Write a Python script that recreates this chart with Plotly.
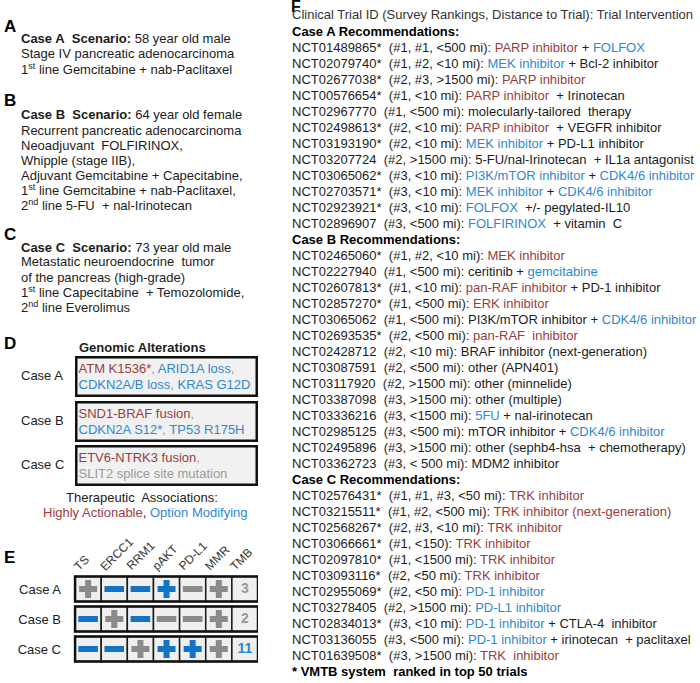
import plotly.graph_objects as go

W, H = 700, 683
FONT = "Liberation Sans, Arial, sans-serif"
RED = "#973d3d"
BLUE = "#2f88cf"
GRAYT = "#9b9b9b"
TXT = "#1c1c1c"
ICON_BLUE = "#1373c4"
ICON_GRAY = "#8a8a8a"


def R(s):
    return f'<span style="color:{RED}">{s}</span>'


def B(s):
    return f'<span style="color:{BLUE}">{s}</span>'


def G(s):
    return f'<span style="color:{GRAYT}">{s}</span>'


# ---------------- data ----------------
scenario_a = ["<b>Case A\u00a0 Scenario:</b> 58 year old male",
              "Stage IV pancreatic adenocarcinoma",
              "1<sup>st</sup> line Gemcitabine + nab-Paclitaxel"]
scenario_b = ["<b>Case B\u00a0 Scenario:</b> 64 year old female",
              "Recurrent pancreatic adenocarcinoma",
              "Neoadjuvant\u00a0 FOLFIRINOX,",
              "Whipple (stage IIB),",
              "Adjuvant Gemcitabine + Capecitabine,",
              "1<sup>st</sup> line Gemcitabine + nab-Paclitaxel,",
              "2<sup>nd</sup> line 5-FU\u00a0 + nal-Irinotecan"]
scenario_c = ["<b>Case C\u00a0 Scenario:</b> 73 year old male",
              "Metastatic neuroendocrine\u00a0 tumor",
              "of the pancreas (high-grade)",
              "1<sup>st</sup> line Capecitabine\u00a0 + Temozolomide,",
              "2<sup>nd</sup> line Everolimus"]

cases = ["Case A", "Case B", "Case C"]
alterations = [
    R("ATM K1536*") + G(",") + " " + B("ARID1A loss") + G(",") + "<br>" + B("CDKN2A/B loss") + G(",") + " " + B("KRAS G12D"),
    R("SND1-BRAF fusion") + G(",") + "<br>" + B("CDKN2A S12*") + G(",") + " " + B("TP53 R175H"),
    R("ETV6-NTRK3 fusion") + G(",") + "<br>" + G("SLIT2 splice site mutation"),
]

markers = ["TS", "ERCC1", "RRM1", "pAKT", "PD-L1", "MMR"]
marker_sign = [["+", "-", "-", "+", "-", "+"],
               ["-", "+", "-", "-", "-", "+"],
               ["-", "-", "+", "+", "+", "+"]]
marker_relevant = [[0, 1, 1, 1, 0, 0],
                   [1, 0, 1, 0, 0, 0],
                   [1, 1, 0, 1, 1, 0]]
tmb_values = [3, 2, 11]
tmb_relevant = [0, 0, 1]

header_f = "Clinical Trial ID (Survey Rankings, Distance to Trial): Trial Intervention"

trials_a_id = ["NCT01489865*", "NCT02079740*", "NCT02677038*", "NCT00576654*", "NCT02967770",
               "NCT02498613*", "NCT03193190*", "NCT03207724", "NCT03065062*", "NCT02703571*",
               "NCT02923921*", "NCT02896907"]
trials_a_rank = ["#1, #1, &lt;500 mi", "#1, #2, &lt;10 mi", "#2, #3, &gt;1500 mi", "#1, &lt;10 mi",
                 "#1, &lt;500 mi", "#2, &lt;10 mi", "#2, &lt;10 mi", "#2, &gt;1500 mi", "#3, &lt;10 mi",
                 "#3, &lt;10 mi", "#3, &lt;10 mi", "#3, &lt;500 mi"]
trials_a_tx = [R("PARP inhibitor") + " + " + B("FOLFOX"),
               B("MEK inhibitor") + " + Bcl-2 inhibitor",
               R("PARP inhibitor"),
               R("PARP inhibitor") + "\u00a0 + Irinotecan",
               "molecularly-tailored\u00a0 therapy",
               R("PARP inhibitor") + "\u00a0 + VEGFR inhibitor",
               B("MEK inhibitor") + " + PD-L1 inhibitor",
               "5-FU/nal-Irinotecan\u00a0 + IL1a antagonist",
               B("PI3K/mTOR inhibitor") + " + " + B("CDK4/6 inhibitor"),
               B("MEK inhibitor") + " + " + B("CDK4/6 inhibitor"),
               B("FOLFOX") + "\u00a0 +/- pegylated-IL10",
               B("FOLFIRINOX") + "\u00a0 + vitamin\u00a0 C"]

trials_b_id = ["NCT02465060*", "NCT02227940", "NCT02607813*", "NCT02857270*", "NCT03065062",
               "NCT02693535*", "NCT02428712", "NCT03087591", "NCT03117920", "NCT03387098",
               "NCT03336216", "NCT02985125", "NCT02495896", "NCT03362723"]
trials_b_rank = ["#1, #2, &lt;10 mi", "#1, &lt;500 mi", "#1, &lt;10 mi", "#1, &lt;500 mi",
                 "#1, &lt;500 mi", "#2, &lt;500 mi", "#2, &lt;10 mi", "#2, &lt;500 mi",
                 "#2, &gt;1500 mi", "#3, &gt;1500 mi", "#3, &lt;1500 mi", "#3, &lt;500 mi",
                 "#3, &gt;1500 mi", "#3, &lt; 500 mi"]
trials_b_tx = [R("MEK inhibitor"),
               "ceritinib + " + B("gemcitabine"),
               R("pan-RAF inhibitor") + " + PD-1 inhibitor",
               R("ERK inhibitor"),
               "PI3K/mTOR inhibitor + " + B("CDK4/6 inhibitor"),
               R("pan-RAF\u00a0 inhibitor"),
               "BRAF inhibitor (next-generation)",
               "other (APN401)",
               "other (minnelide)",
               "other (multiple)",
               B("5FU") + " + nal-irinotecan",
               "mTOR inhibitor + " + B("CDK4/6 inhibitor"),
               "other (sephb4-hsa\u00a0 + chemotherapy)",
               "MDM2 inhibitor"]

trials_c_id = ["NCT02576431*", "NCT03215511*", "NCT02568267*", "NCT03066661*", "NCT02097810*",
               "NCT03093116*", "NCT02955069*", "NCT03278405", "NCT02834013*", "NCT03136055",
               "NCT01639508*"]
trials_c_rank = ["#1, #1, #3, &lt;50 mi", "#1, #2, &lt;500 mi", "#2, #3, &lt;10 mi", "#1, &lt;150",
                 "#1, &lt;1500 mi", "#2, &lt;50 mi", "#2, &lt;50 mi", "#2, &gt;1500 mi",
                 "#3, &lt;10 mi", "#3, &lt;500 mi", "#3, &gt;1500 mi"]
trials_c_tx = [R("TRK inhibitor"),
               R("TRK inhibitor (next-generation)"),
               R("TRK inhibitor"),
               R("TRK inhibitor"),
               R("TRK inhibitor"),
               R("TRK inhibitor"),
               B("PD-1 inhibitor"),
               B("PD-L1 inhibitor"),
               B("PD-1 inhibitor") + " + CTLA-4\u00a0 inhibitor",
               B("PD-1 inhibitor") + " + irinotecan\u00a0 + paclitaxel",
               R("TRK\u00a0 inhibitor")]
footer_f = "<b>* VMTB system\u00a0 ranked in top 50 trials</b>"

# ---------------- layout helpers ----------------
annotations = []


def add_text(x, y, text, size=13, color=TXT, anchor="left", **kw):
    annotations.append(dict(x=x / W, y=1 - y / H, xref="paper", yref="paper", text=text,
                            showarrow=False, xanchor=anchor, yanchor="middle",
                            font=dict(family=FONT, size=size, color=color), borderpad=0, **kw))


def add_letter(x, y, letter, size=17):
    add_text(x, y, f"<b>{letter}</b>", size=size, color="#000")


# Panels A-C
add_letter(3, 26, "A")
for k, line in enumerate(scenario_a):
    add_text(20, 39 + 15 * k, line)
add_letter(3, 100, "B")
for k, line in enumerate(scenario_b):
    add_text(20, 115 + 15 * k, line)
add_letter(3, 234, "C")
for k, line in enumerate(scenario_c):
    add_text(20, 247 + 15 * k, line)

# Panel D
add_letter(3, 343, "D")
add_text(142, 347, "<b>Genomic Alterations</b>", anchor="center", color="#222")
box_centers = [376, 421, 465]
for case, alt, yc in zip(cases, alterations, box_centers):
    add_text(42, yc - 1, case, size=13, anchor="center", color="#222")
    annotations.append(dict(x=166 / W, y=1 - yc / H, xref="paper", yref="paper", text=alt,
                            showarrow=False, xanchor="center", yanchor="middle", align="left",
                            width=176, height=34, bgcolor="#f1f1f1", bordercolor="#111",
                            borderwidth=2.5, borderpad=1,
                            font=dict(family=FONT, size=13, color=TXT)))
add_text(142, 497, "Therapeutic\u00a0 Associations:", anchor="center", color="#222")
add_text(145, 512, R("Highly Actionable") + ", " + B("Option Modifying"), anchor="center", color="#222")

# Panel E
add_letter(3, 557, "E")
col_labels = markers + ["TMB"]
for j, lab in enumerate(col_labels):
    annotations.append(dict(x=j - 0.75, y=1 - 576 / H, xref="x", yref="paper", text=lab,
                            showarrow=False, textangle=-45, xanchor="left", yanchor="bottom",
                            font=dict(family=FONT, size=12, color="#333")))

# Panel F
add_letter(290, 7, "F", size=16)
f_lines = [(header_f, "#333")]
f_lines.append(("<b>Case A Recommendations:</b>", "#000"))
for i, r, t in zip(trials_a_id, trials_a_rank, trials_a_tx):
    f_lines.append((f"{i}\u00a0 ({r}): {t}", TXT))
f_lines.append(("<b>Case B Recommendations:</b>", "#000"))
for i, r, t in zip(trials_b_id, trials_b_rank, trials_b_tx):
    f_lines.append((f"{i}\u00a0 ({r}): {t}", TXT))
f_lines.append(("<b>Case C Recommendations:</b>", "#000"))
for i, r, t in zip(trials_c_id, trials_c_rank, trials_c_tx):
    f_lines.append((f"{i}\u00a0 ({r}): {t}", TXT))
f_lines.append((footer_f, "#000"))
for k, (line, col) in enumerate(f_lines):
    add_text(291, 15 + 16.02 * k, line, color=col)

# ---------------- figure ----------------
fig = go.Figure()

shapes = []
for i in range(len(cases)):
    for j in range(len(col_labels)):
        shapes.append(dict(type="rect", xref="x", yref="y", x0=j - 0.5, x1=j + 0.5,
                           y0=i - 0.42, y1=i + 0.42, fillcolor="#efefef",
                           line=dict(color="#1a1a1a", width=1.5), layer="below"))
    shapes.append(dict(type="rect", xref="x", yref="y", x0=-0.5, x1=len(col_labels) - 0.5,
                       y0=i - 0.42, y1=i + 0.42, fillcolor="rgba(0,0,0,0)",
                       line=dict(color="#111", width=2.5), layer="below"))

px_, py_, pc_ = [], [], []
mx_, my_, mc_ = [], [], []
for i in range(len(cases)):
    for j in range(len(markers)):
        col = ICON_BLUE if marker_relevant[i][j] else ICON_GRAY
        if marker_sign[i][j] == "+":
            px_.append(j); py_.append(i); pc_.append(col)
        else:
            mx_.append(j); my_.append(i); mc_.append(col)

fig.add_trace(go.Scatter(x=px_, y=py_, mode="markers", hoverinfo="skip",
                         marker=dict(symbol="cross", size=15, color=pc_, line=dict(width=0))))
fig.add_trace(go.Scatter(x=mx_, y=my_, mode="markers", hoverinfo="skip",
                         marker=dict(symbol="line-ew", size=14, color=mc_,
                                     line=dict(width=6, color=mc_))))
fig.add_trace(go.Scatter(x=[len(markers)] * len(tmb_values), y=list(range(len(cases))),
                         mode="text", hoverinfo="skip",
                         text=[f"<b>{v}</b>" for v in tmb_values],
                         textfont=dict(family=FONT, size=14,
                                       color=[BLUE if t else "#999" for t in tmb_relevant])))

# x range extends one half-cell left of the grid so the slanted labels stay visible
fig.update_layout(
    width=W, height=H, margin=dict(l=0, r=0, t=0, b=0),
    paper_bgcolor="rgba(0,0,0,0)", plot_bgcolor="rgba(0,0,0,0)", showlegend=False,
    annotations=annotations, shapes=shapes,
    xaxis=dict(domain=[62 / W, 258 / W], range=[-1.0, 6.5], showgrid=False, zeroline=False,
               showticklabels=False, showline=False, fixedrange=True),
    yaxis=dict(domain=[1 - 664 / H, 1 - 574 / H], range=[2.5, -0.5], showgrid=False,
               zeroline=False, showline=False, tickvals=list(range(len(cases))), ticktext=cases,
               ticks="", ticklabelstandoff=0,
               tickfont=dict(family=FONT, size=13, color="#222"), fixedrange=True),
)

fig.write_html("out.html", config={"displayModeBar": False, "staticPlot": True},
               post_script="document.body.style.margin='0';document.body.style.overflow='hidden';document.body.style.background='white';")
